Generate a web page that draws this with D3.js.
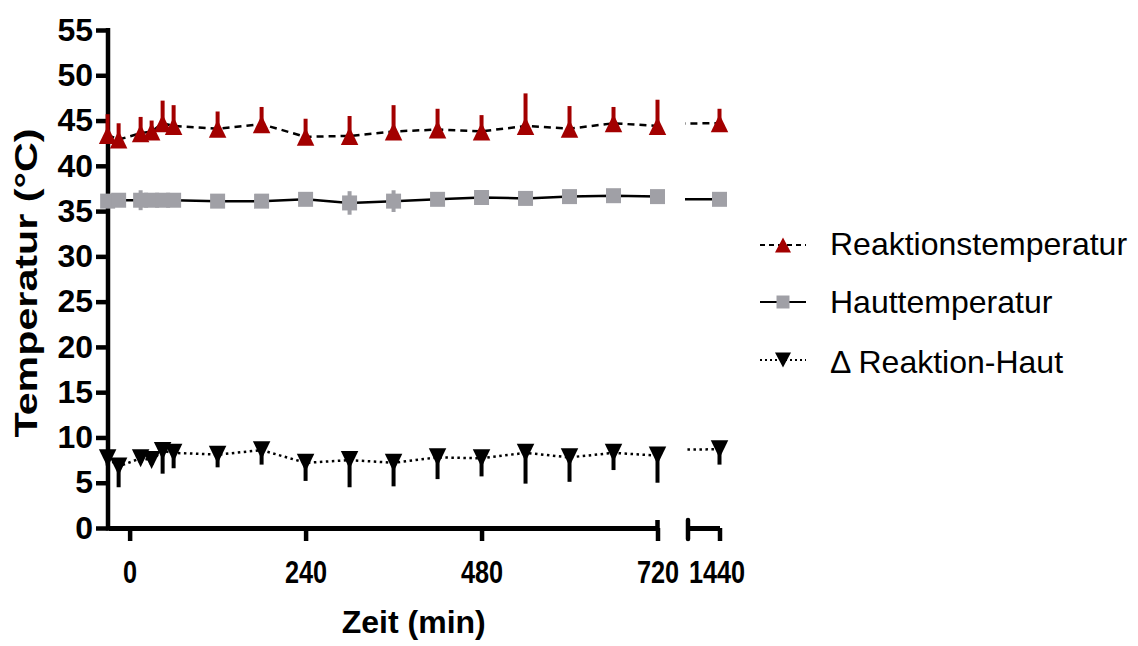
<!DOCTYPE html>
<html><head><meta charset="utf-8">
<script src="https://cdn.jsdelivr.net/npm/d3@7"></script>
<style>body{margin:0;background:#fff}</style>
</head><body>
<svg id="chart" width="1138" height="646"></svg>
<script>
// ---- data ----
const times = [-30, -15, 15, 30, 45, 60, 120, 180, 240, 300, 360, 420, 480, 540, 600, 660, 720, 1440];
const reaktionMean = [43.4, 42.9, 43.6, 43.8, 44.7, 44.4, 44.1, 44.6, 43.2, 43.3, 43.8, 44.0, 43.8, 44.4, 44.1, 44.7, 44.4, 44.7];
const reaktionSD   = [2.3, 1.8, 1.8, 1.2, 2.5, 2.3, 1.9, 1.9, 2.0, 2.2, 2.9, 2.3, 1.8, 3.6, 2.5, 1.8, 2.9, 1.6];
const hautMean = [36.1, 36.2, 36.2, 36.2, 36.2, 36.2, 36.1, 36.1, 36.3, 35.9, 36.1, 36.3, 36.5, 36.4, 36.6, 36.7, 36.6, 36.3];
const hautSD   = [0.5, 0.6, 1.1, 0.5, 0.5, 0.5, 0.5, 0.5, 0.5, 1.3, 1.2, 0.5, 0.5, 0.5, 0.5, 0.5, 0.5, 0.5];
const deltaMean = [7.7, 6.8, 7.7, 7.5, 8.5, 8.3, 8.1, 8.6, 7.2, 7.5, 7.2, 7.8, 7.7, 8.3, 7.8, 8.3, 8.0, 8.7];
const deltaSD   = [0.8, 2.3, 0.5, 0.5, 2.5, 1.7, 1.4, 1.6, 2.0, 3.0, 2.6, 2.4, 2.0, 3.4, 2.7, 1.9, 3.0, 1.7];
const yTicks = [0, 5, 10, 15, 20, 25, 30, 35, 40, 45, 50, 55];
const xTicksA = [0, 240, 480, 720];
const xTicksB = [1440];
const seriesNames = ["Reaktionstemperatur", "Hauttemperatur", "\u0394 Reaktion-Haut"];
const yTitle = "Temperatur (\u00B0C)";
const xTitle = "Zeit (min)";

// ---- setup ----
const svg = d3.select("#chart");
const FONT = "'Liberation Sans', Arial, sans-serif";
const RED = "#a30000", GRAY = "#a0a0a6", BLACK = "#000";

const y = d3.scaleLinear().domain([0, 55]).range([528, 30]);
const xA = d3.scaleLinear().domain([-29.5, 720]).range([108, 657.5]);
const xB = d3.scaleLinear().domain([1397, 1440]).range([688, 719.5]);

const series = [
  {name: seriesNames[0], mean: reaktionMean, sd: reaktionSD, color: RED, shape: "up", dash: "7,5", dir: "up"},
  {name: seriesNames[1], mean: hautMean, sd: hautSD, color: GRAY, shape: "square", dash: null, dir: "both"},
  {name: seriesNames[2], mean: deltaMean, sd: deltaSD, color: BLACK, shape: "down", dash: "2.5,3.5", dir: "down"}
];

function markerPath(shape, w, h) {
  if (shape === "up") return `M0,${-h/2}L${w/2},${h/2}L${-w/2},${h/2}Z`;
  if (shape === "down") return `M0,${h/2}L${w/2},${-h/2}L${-w/2},${-h/2}Z`;
  return `M${-w/2},${-h/2}H${w/2}V${h/2}H${-w/2}Z`;
}

const defs = svg.append("defs");
defs.append("clipPath").attr("id", "clipA").append("rect").attr("x", 0).attr("y", 0).attr("width", 657.5).attr("height", 646);
defs.append("clipPath").attr("id", "clipB").append("rect").attr("x", 685).attr("y", 0).attr("width", 40).attr("height", 646);

// ---- lines ----
const panels = [{x: xA, clip: "clipA", dom: xA.domain()}, {x: xB, clip: "clipB", dom: xB.domain()}];
panels.forEach(p => {
  const g = svg.append("g").attr("clip-path", `url(#${p.clip})`);
  series.forEach(s => {
    const line = d3.line().x((d, i) => p.x(times[i])).y(d => y(d));
    g.append("path").datum(s.mean)
      .attr("d", line).attr("fill", "none").attr("stroke", BLACK)
      .attr("stroke-width", 2.5)
      .attr("stroke-dasharray", s.dash);
  });
});

// ---- axes ----
const yAxis = svg.append("g").attr("transform", `translate(${xA.range()[0]},0)`)
  .call(d3.axisLeft(y).tickValues(yTicks).tickSize(12).tickSizeOuter(0).tickPadding(3));
yAxis.select(".domain").attr("stroke-width", 4.5).attr("d", `M0,${y(55) - 2}V${y(0) + 2.5}`);
yAxis.selectAll(".tick line").attr("stroke-width", 4.5);
yAxis.selectAll(".tick text").attr("font-family", FONT).attr("font-weight", "bold").attr("font-size", 32).attr("fill", "#000");

function xAxisPanel(scale, ticks) {
  const g = svg.append("g").attr("transform", `translate(0,${y(0)})`)
    .call(d3.axisBottom(scale).tickValues(ticks).tickSize(13).tickSizeOuter(0).tickFormat(d3.format("d")));
  g.select(".domain").attr("stroke-width", 5);
  g.selectAll(".tick line").attr("stroke-width", 4.5);
  g.selectAll(".tick text").attr("font-family", FONT).attr("font-weight", "bold").attr("font-size", 32)
    .attr("fill", "#000").attr("y", 55).attr("dy", 0)
    .each(function() {
      const len = this.getComputedTextLength();
      d3.select(this).attr("textLength", len * 0.79).attr("lengthAdjust", "spacingAndGlyphs");
    });
  return g;
}
const gA = xAxisPanel(xA, xTicksA);
const gB = xAxisPanel(xB, xTicksB);
// break marks
gA.append("line").attr("x1", xA.range()[1]).attr("x2", xA.range()[1]).attr("y1", -8).attr("y2", 0)
  .attr("stroke", BLACK).attr("stroke-width", 4.5);
gB.append("line").attr("x1", xB.range()[0]).attr("x2", xB.range()[0]).attr("y1", -8).attr("y2", 11)
  .attr("stroke", BLACK).attr("stroke-width", 4.5).attr("stroke-linecap", "round");
gB.select(".tick text").attr("dx", -3);

// ---- error bars & markers ----
series.forEach(s => {
  const g = svg.append("g");
  times.forEach((t, i) => {
    const sc = t <= 720 ? xA : xB;
    const cx = sc(t);
    const m = s.mean[i], sd = s.sd[i];
    const lo = s.dir === "up" ? m : m - sd;
    const hi = s.dir === "down" ? m : m + sd;
    g.append("line").attr("x1", cx).attr("x2", cx).attr("y1", y(lo)).attr("y2", y(hi))
      .attr("stroke", s.color).attr("stroke-width", 4);
  });
  times.forEach((t, i) => {
    const sc = t <= 720 ? xA : xB;
    const w = s.shape === "square" ? 15 : 17.5;
    const h = s.shape === "square" ? 15 : 18;
    g.append("path").attr("d", markerPath(s.shape, w, h))
      .attr("transform", `translate(${sc(t)},${y(s.mean[i])})`)
      .attr("fill", s.color);
  });
});

// ---- titles ----
svg.append("text").attr("x", (xA.range()[0] + xB.range()[1]) / 2).attr("y", 633)
  .attr("text-anchor", "middle").attr("font-family", FONT).attr("font-weight", "bold").attr("font-size", 32)
  .text(xTitle);
svg.append("text").attr("transform", `translate(37,${(y(0) + y(55)) / 2 + 4}) rotate(-90)`)
  .attr("text-anchor", "middle").attr("font-family", FONT).attr("font-weight", "bold").attr("font-size", 32)
  .attr("textLength", 309).attr("lengthAdjust", "spacingAndGlyphs")
  .text(yTitle);

// ---- legend ----
const legendRows = [245, 302, 360];
const legendBase = [255, 313, 373];
series.forEach((s, i) => {
  const g = svg.append("g");
  g.append("line").attr("x1", 760).attr("x2", 806).attr("y1", legendRows[i]).attr("y2", legendRows[i])
    .attr("stroke", BLACK).attr("stroke-width", 2)
    .attr("stroke-dasharray", s.dash ? (s.shape === "up" ? "5,4" : "2,3") : null);
  const w = s.shape === "square" ? 13 : 16;
  const h = s.shape === "square" ? 13 : 15;
  g.append("path").attr("d", markerPath(s.shape, w, h))
    .attr("transform", `translate(783,${legendRows[i]})`).attr("fill", s.color);
  g.append("text").attr("x", 830).attr("y", legendBase[i])
    .attr("font-family", FONT).attr("font-size", 32).attr("fill", "#000").text(s.name);
});
</script>
</body></html>
